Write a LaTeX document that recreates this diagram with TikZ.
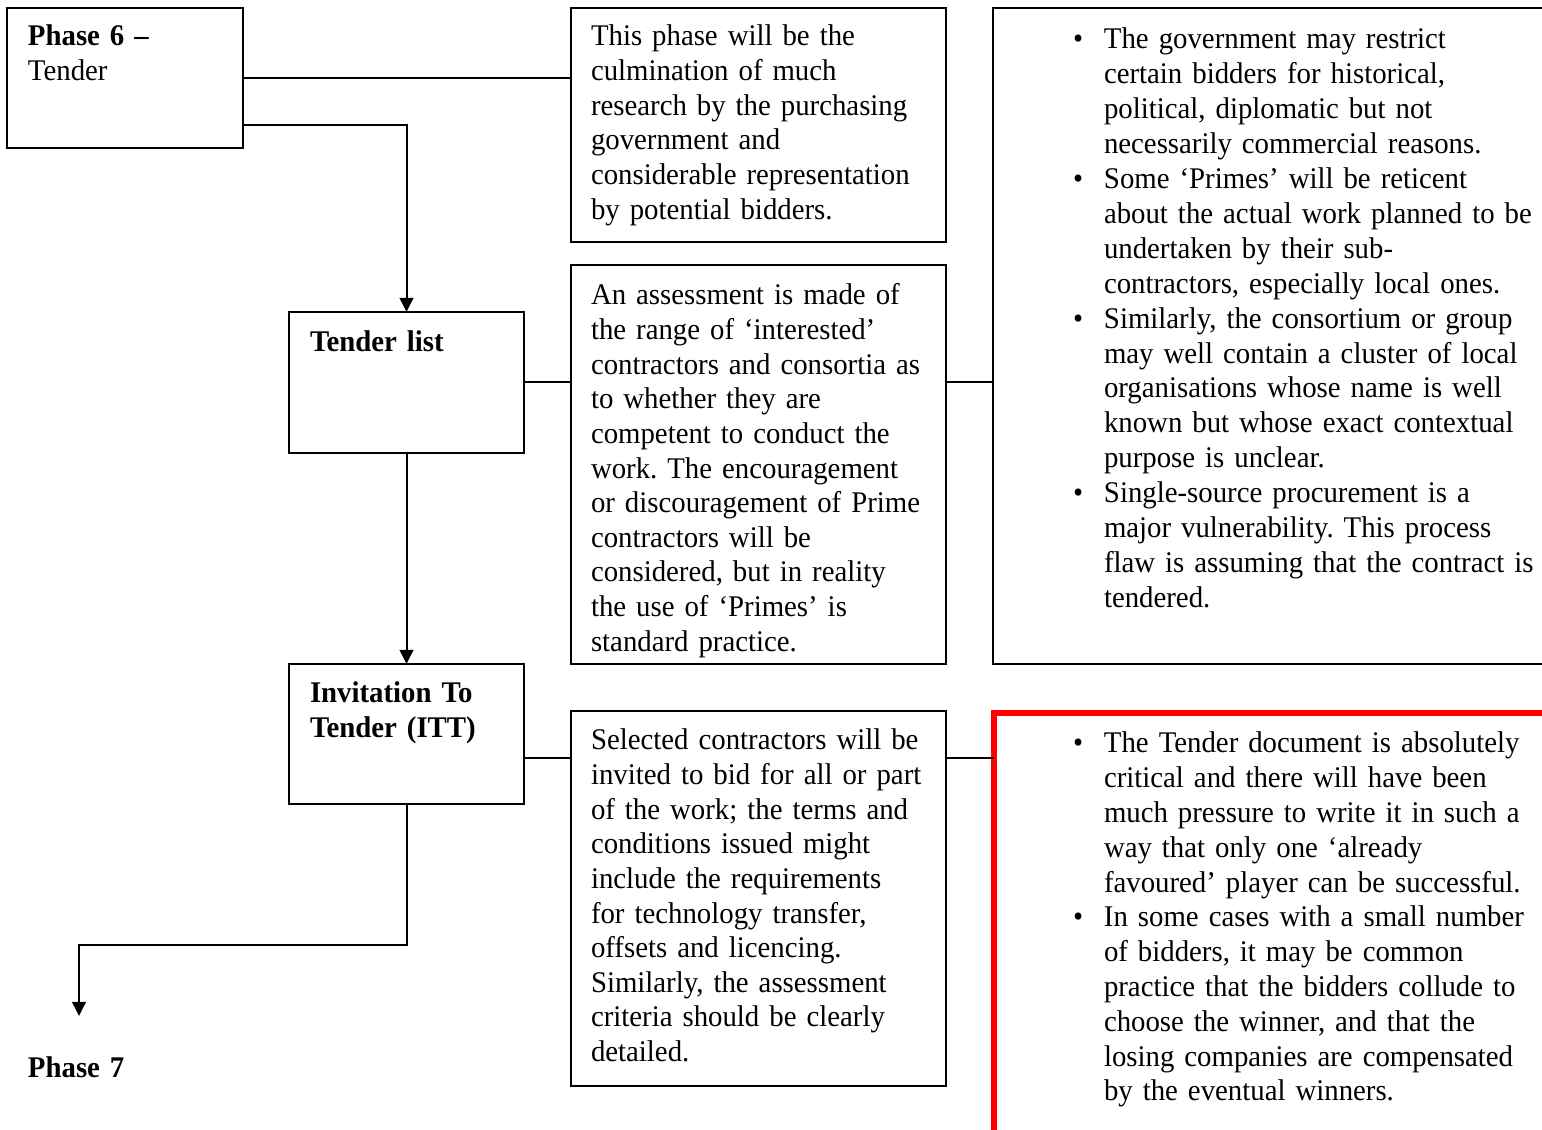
\documentclass[tikz,border=0pt]{standalone}
\usepackage{fontspec}
\setmainfont[FakeStretch=0.96,WordSpace=0.85]{Liberation Serif}
\usetikzlibrary{arrows.meta,calc}
\newcommand\mybul{\makebox[12.4pt][l]{\textbullet}}
\newcommand\myind{\hspace*{12.4pt}}
\begin{document}
\frenchspacing
\begin{tikzpicture}[x=0.4pt,y=-0.4pt,
  box/.style={draw,line width=0.8pt,inner sep=0pt,outer sep=0pt,anchor=north west},
  redbox/.style={draw=red,line width=2.2pt,inner sep=0pt,outer sep=0pt,anchor=north west},
  txt/.style={anchor=base west,inner sep=0pt,outer sep=0pt,align=left,text width=240pt,
    font=\fontsize{12pt}{13.85pt}\selectfont\frenchspacing},
  conn/.style={line width=0.8pt},
  arr/.style={line width=0.8pt,-{Triangle[length=5.6pt,width=5.4pt]}}]
\useasboundingbox (0,0) rectangle (1542,1130);
\clip (0,0) rectangle (1542,1130);
% boxes
\node[box,minimum width=94.4pt,minimum height=56pt] (p6) at (7,8) {};
\node[box,minimum width=150pt,minimum height=93.6pt] (b1) at (571,8) {};
\node[box,minimum width=240pt,minimum height=262.4pt] (rb) at (993,8) {};
\node[box,minimum width=94pt,minimum height=56.4pt] (tl) at (289,312) {};
\node[box,minimum width=150pt,minimum height=159.6pt] (b2) at (571,265) {};
\node[box,minimum width=94pt,minimum height=56pt] (itt) at (289,664) {};
\node[box,minimum width=150pt,minimum height=150pt] (b3) at (571,711) {};
\node[redbox,minimum width=240pt,minimum height=200pt] (red) at (994,713) {};
% texts
\node[txt] (p6t) at (28,46) {\textbf{Phase 6 –}\\Tender};
\node[txt] (b1t) at (591,46) {This phase will be the\\culmination of much\\research by the purchasing\\government and\\considerable representation\\by potential bidders.};
\node[txt,font=\fontsize{12pt}{13.96pt}\selectfont\frenchspacing] (rbt) at (1073,49) {\mybul The government may restrict\\
\myind certain bidders for historical,\\
\myind political, diplomatic but not\\
\myind necessarily commercial reasons.\\
\mybul Some ‘Primes’ will be reticent\\
\myind about the actual work planned to be\\
\myind undertaken by their sub-\\
\myind contractors, especially local ones.\\
\mybul Similarly, the consortium or group\\
\myind may well contain a cluster of local\\
\myind organisations whose name is well\\
\myind known but whose exact contextual\\
\myind purpose is unclear.\\
\mybul Single-source procurement is a\\
\myind major vulnerability. This process\\
\myind flaw is assuming that the contract is\\
\myind tendered.};
\node[txt] (tlt) at (310,352) {\textbf{Tender list}};
\node[txt] (b2t) at (591,305) {An assessment is made of\\the range of ‘interested’\\contractors and consortia as\\to whether they are\\competent to conduct the\\work. The encouragement\\or discouragement of Prime\\contractors will be\\considered, but in reality\\the use of ‘Primes’ is\\standard practice.};
\node[txt] (ittt) at (310,703) {\textbf{Invitation To}\\\textbf{Tender (ITT)}};
\node[txt] (b3t) at (591,750) {Selected contractors will be\\invited to bid for all or part\\of the work; the terms and\\conditions issued might\\include the requirements\\for technology transfer,\\offsets and licencing.\\Similarly, the assessment\\criteria should be clearly\\detailed.};
\node[txt,font=\fontsize{12pt}{13.92pt}\selectfont\frenchspacing] (redt) at (1073,753) {\mybul The Tender document is absolutely\\
\myind critical and there will have been\\
\myind much pressure to write it in such a\\
\myind way that only one ‘already\\
\myind favoured’ player can be successful.\\
\mybul In some cases with a small number\\
\myind of bidders, it may be common\\
\myind practice that the bidders collude to\\
\myind choose the winner, and that the\\
\myind losing companies are compensated\\
\myind by the eventual winners.};
\node[txt] (p7) at (28,1078) {\textbf{Phase 7}};
\coordinate (p7tip) at (79,1016);
% connectors
\draw[conn] (p6.east) -- (p6.east -| b1.west);
\draw[arr] ($(p6.south east)+(0,-23)$) -| (tl.north);
\draw[conn] (tl.east) -- (tl.east -| b2.west);
\draw[conn] (b2.east |- tl.east) -- (rb.west |- tl.east);
\draw[arr] (tl.south) -- (itt.north);
\coordinate (ittc) at ($(itt.south east)+(0,-46)$);
\draw[conn] (ittc) -- (ittc -| b3.west);
\draw[conn] (b3.east |- ittc) -- (red.west |- ittc);
\draw[arr] (itt.south) -- ++(0,141) -| (p7tip);
\end{tikzpicture}
\end{document}
